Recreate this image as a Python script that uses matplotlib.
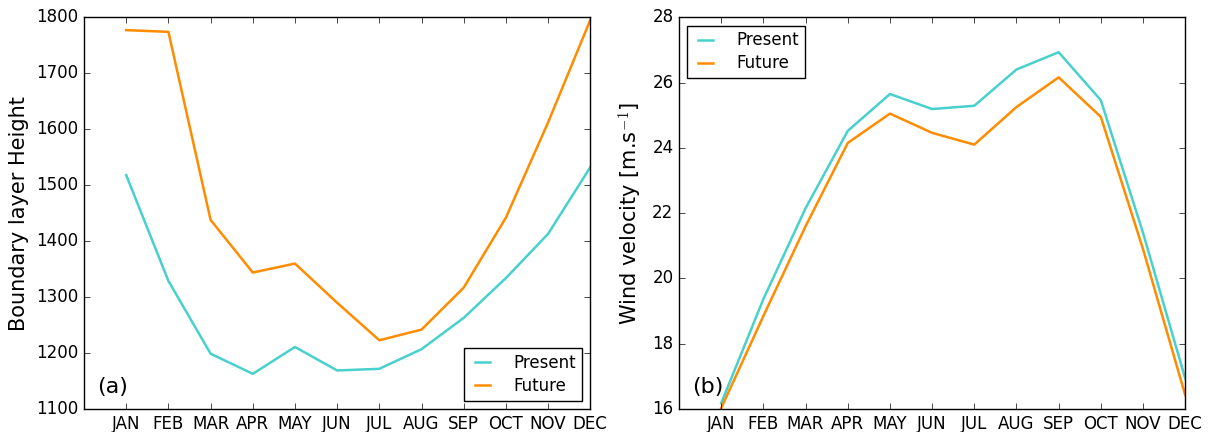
import matplotlib
matplotlib.use("Agg")
import matplotlib.pyplot as plt

plt.style.use("classic")

# month labels
meses = ["JAN", "FEB", "MAR", "APR", "MAY", "JUN",
         "JUL", "AUG", "SEP", "OCT", "NOV", "DEC"]
x = list(range(1, 13))

# (a) boundary layer height
blh_present = [1518, 1329, 1199, 1163, 1211, 1169, 1172, 1207, 1263, 1334, 1413, 1532]
blh_future = [1777, 1774, 1438, 1344, 1360, 1290, 1223, 1242, 1317, 1442, 1612, 1795]

# (b) wind velocity
wind_present = [16.18, 19.37, 22.15, 24.52, 25.65, 25.19, 25.29, 26.40, 26.93, 25.46, 21.4, 16.94]
wind_future = [16.03, 18.85, 21.6, 24.15, 25.05, 24.46, 24.10, 25.25, 26.16, 24.95, 20.9, 16.43]

cor_present = "mediumturquoise"
cor_future = "darkorange"

fig = plt.figure(figsize=(12.11, 4.32), dpi=100, facecolor="white")
ax1 = fig.add_axes([0.0694, 0.053, 0.418, 0.907])
ax2 = fig.add_axes([0.5607, 0.053, 0.418, 0.907])

leg_kw = dict(fontsize=12, handlelength=1.5, handletextpad=1.1,
              labelspacing=0.3, borderpad=0.35)

# painel (a)
ax1.plot(x, blh_present, color=cor_present, lw=1.8, label="Present")
ax1.plot(x, blh_future, color=cor_future, lw=1.8, label="Future")
ax1.set_xlim(0, 12)
ax1.set_ylim(1100, 1800)
ax1.set_xticks(x)
ax1.set_xticklabels(meses, fontsize=12)
ax1.tick_params(axis="y", labelsize=12)
ax1.set_ylabel("Boundary layer Height", fontsize=15)
ax1.legend(loc="lower right", **leg_kw)
ax1.text(0.025, 0.04, "(a)", transform=ax1.transAxes, fontsize=16)

# painel (b)
ax2.plot(x, wind_present, color=cor_present, lw=1.8, label="Present")
ax2.plot(x, wind_future, color=cor_future, lw=1.8, label="Future")
ax2.set_xlim(0, 12)
ax2.set_ylim(16, 28)
ax2.set_xticks(x)
ax2.set_xticklabels(meses, fontsize=12)
ax2.tick_params(axis="y", labelsize=12)
ax2.set_ylabel("Wind velocity [m.s$^{-1}$]", fontsize=15)
ax2.legend(loc="upper left", **leg_kw)
ax2.text(0.025, 0.04, "(b)", transform=ax2.transAxes, fontsize=16)

fig.savefig("out.png", dpi=100, facecolor="white")
